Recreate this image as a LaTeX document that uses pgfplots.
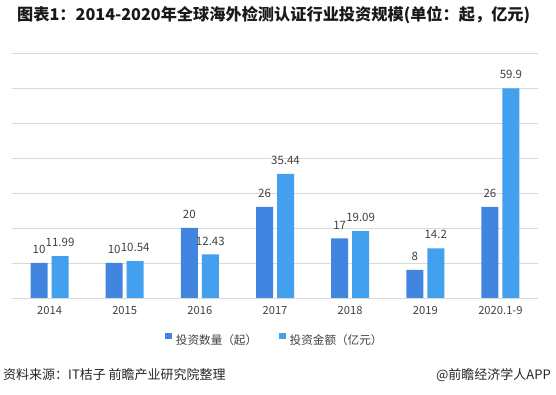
\documentclass[border=0pt]{standalone}
\usepackage{fontspec}
\setmainfont{Noto Sans CJK SC}
\usepackage{pgfplots}
\pgfplotsset{compat=1.18}
\definecolor{cA}{HTML}{4285E0}
\definecolor{cB}{HTML}{42A0EE}
\definecolor{gridc}{HTML}{D9D9D9}
\definecolor{txt}{HTML}{404040}
\begin{document}
\begin{tikzpicture}[x=1pt,y=1pt]
\useasboundingbox (0,0) rectangle (556,395);
\begin{axis}[at={(12pt,97pt)}, anchor=south west, scale only axis,
  width=526pt, height=245pt,
  ybar=4pt, bar width=17pt,
  xmin=-0.5, xmax=6.5, ymin=0, ymax=70,
  ytick={0,10,...,70}, yticklabels={},
  xtick=data, xticklabels={2014,2015,2016,2017,2018,2019,2020.1-9},
  ymajorgrids, grid style={gridc, line width=0.8pt},
  axis line style={draw=none}, major tick length=0pt,
  /pgf/number format/assume math mode=true,
  xticklabel style={font=\fontsize{11.2}{13}\selectfont, text=txt, inner sep=0pt, yshift=-8pt},
  nodes near coords,
  nodes near coords style={font=\fontsize{11.5}{13}\selectfont, text=txt, anchor=south, inner sep=0pt, yshift=9pt},
  legend columns=2,
  legend style={at={(0.5,-0.171)}, anchor=center, draw=none, fill=none,
    font=\fontsize{11.6}{13}\selectfont, text=txt,
    /tikz/every odd column/.append style={column sep=2pt},
    /tikz/every even column/.append style={column sep=20pt}},
  legend image code/.code={\fill[#1] (0pt,1.3pt) rectangle (6.5pt,7.3pt);},
]
\addplot[fill=cA, draw=none] coordinates {(0,10) (1,10) (2,20) (3,26) (4,17) (5,8) (6,26)};
\addplot[fill=cB, draw=none] coordinates {(0,11.99) (1,10.54) (2,12.43) (3,35.44) (4,19.09) (5,14.2) (6,59.9)};
\legend{投资数量（起）,投资金额（亿元）}
\end{axis}
\node[anchor=west, inner sep=0pt, font=\bfseries\fontsize{16.2}{18}\selectfont, text=black!90] at (17,380) {图表1：2014-2020年全球海外检测认证行业投资规模(单位：起，亿元)};
\node[anchor=west, inner sep=0pt, font=\fontsize{13}{15}\selectfont, text=black!85] at (3,20) {资料来源：IT桔子 前瞻产业研究院整理};
\node[anchor=east, inner sep=0pt, font=\fontsize{13}{15}\selectfont, text=black!85] at (551,20) {@前瞻经济学人APP};
\end{tikzpicture}
\end{document}
